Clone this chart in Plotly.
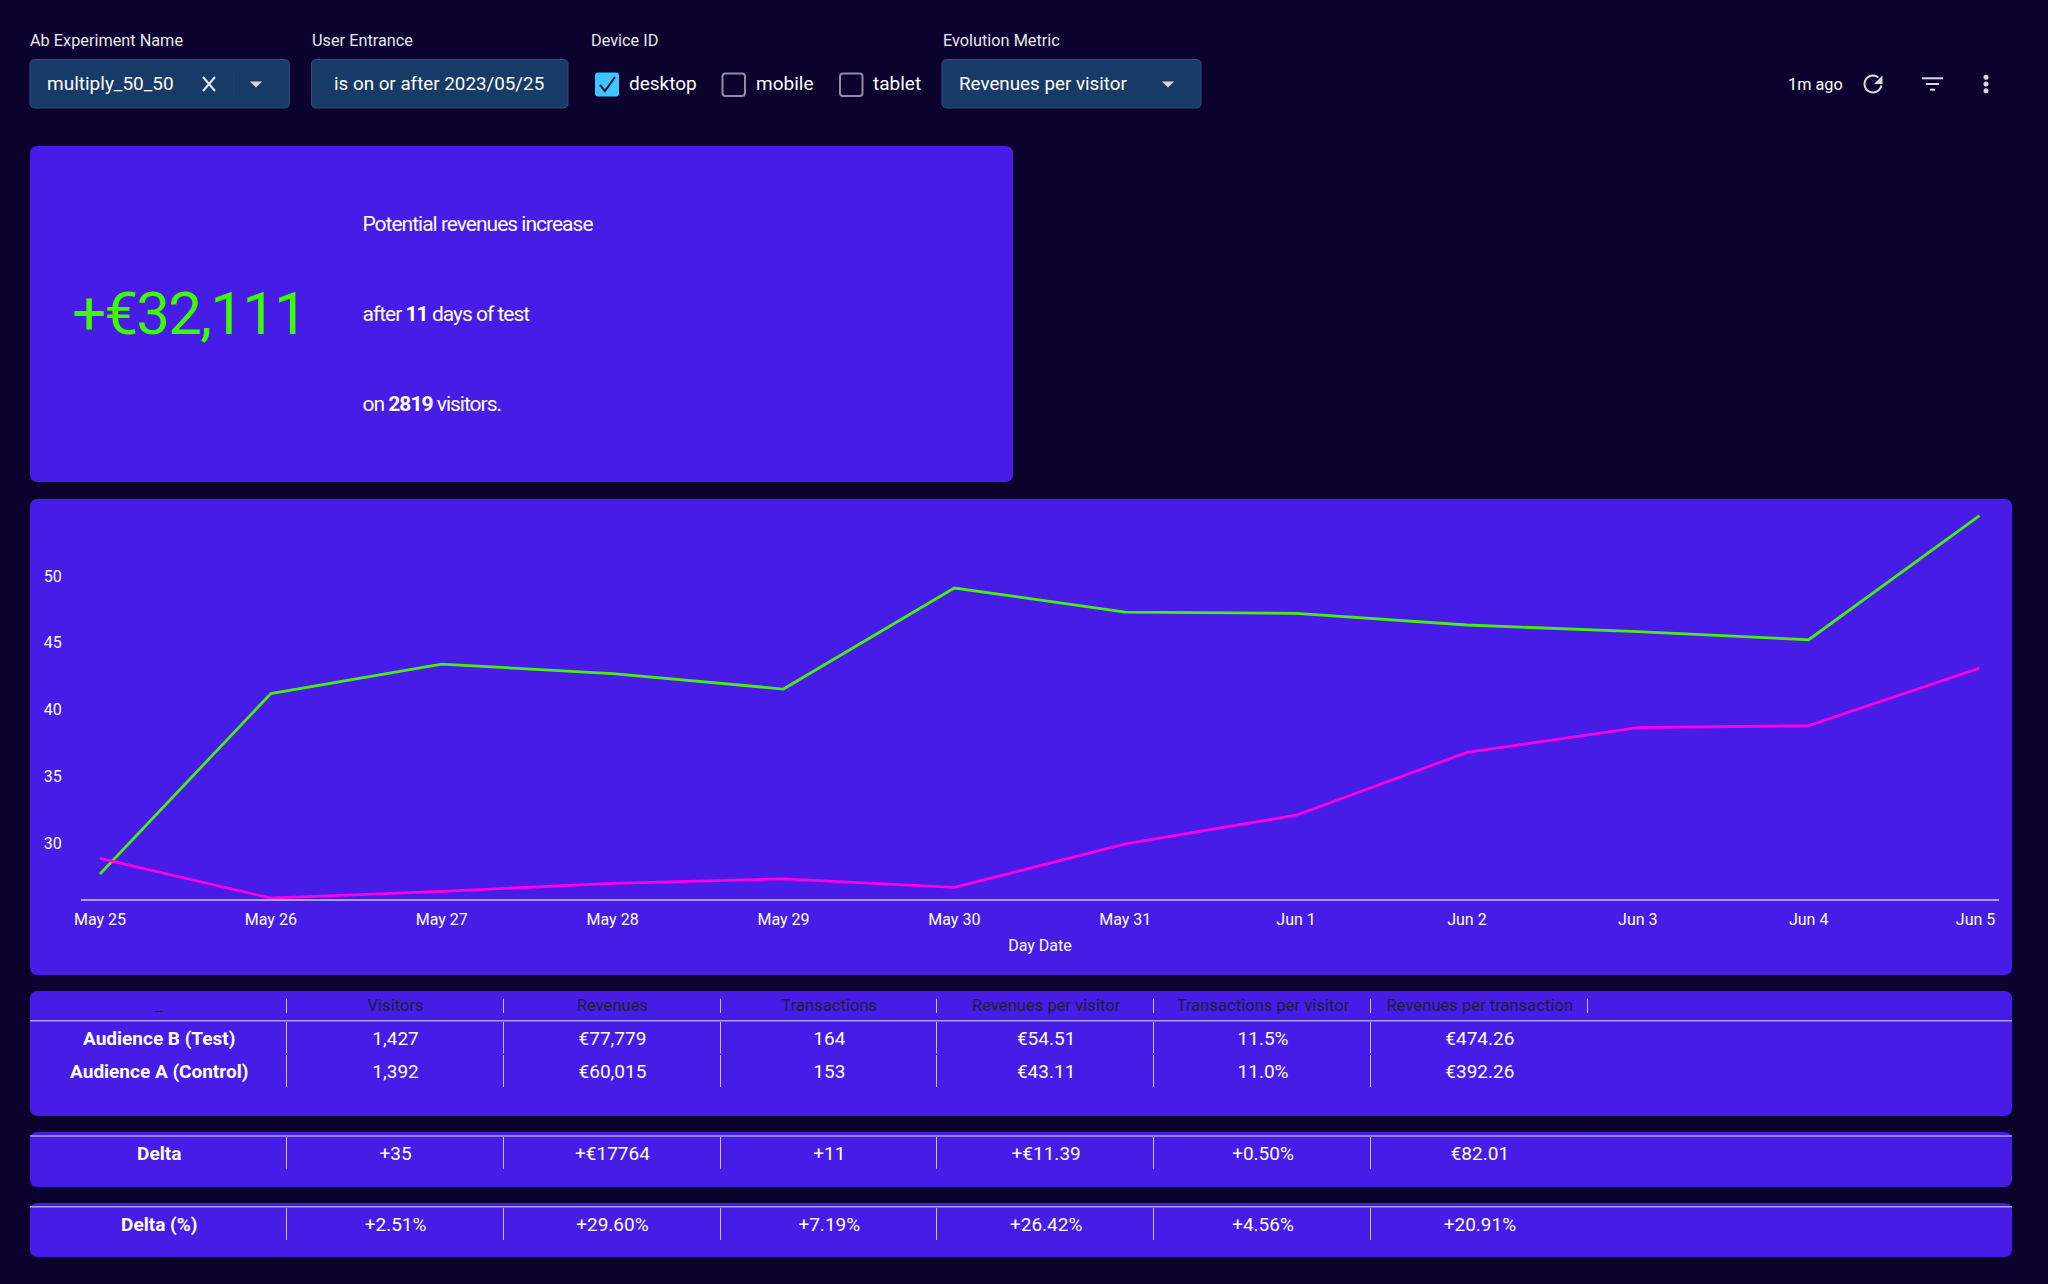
import math
import plotly.graph_objects as go

# chart values
days = ['2023-05-25', '2023-05-26', '2023-05-27', '2023-05-28', '2023-05-29', '2023-05-30',
        '2023-05-31', '2023-06-01', '2023-06-02', '2023-06-03', '2023-06-04', '2023-06-05']
day_labels = ['May 25', 'May 26', 'May 27', 'May 28', 'May 29', 'May 30',
              'May 31', 'Jun 1', 'Jun 2', 'Jun 3', 'Jun 4', 'Jun 5\u00a0\u00a0']
test_rpv = [27.7, 41.2, 43.4, 42.7, 41.54, 49.1, 47.3, 47.2, 46.33, 45.83, 45.23, 54.51]
control_rpv = [28.87, 25.9, 26.4, 27.0, 27.34, 26.7, 29.95, 32.1, 36.8, 38.65, 38.8, 43.11]

# table values
columns = ['_', 'Visitors', 'Revenues', 'Transactions', 'Revenues per visitor',
           'Transactions per visitor', 'Revenues per transaction']
audience_b = ['Audience B (Test)', '1,427', '€77,779', '164', '€54.51', '11.5%', '€474.26']
audience_a = ['Audience A (Control)', '1,392', '€60,015', '153', '€43.11', '11.0%', '€392.26']
delta = ['Delta', '+35', '+€17764', '+11', '+€11.39', '+0.50%', '€82.01']
delta_pct = ['Delta (%)', '+2.51%', '+29.60%', '+7.19%', '+26.42%', '+4.56%', '+20.91%']

BG = '#0b032d'
CARD = '#461ce6'
SELECT = '#173a66'
LINE = '#a99ee0'
RULE = '#c9bff5'
W, H = 2048, 1284
FONT = 'Roboto'
col_edges = [286.5, 503.5, 720.5, 936.5, 1153.5, 1370.5, 1587.5]
col_widths = [256, 217, 217, 217, 217, 217, 217]


def px(x):
    return x / W


def py(y):
    return 1 - y / H


def rounded(x0, y0, x1, y1, r, fill, line=None, width=0):
    path = (f'M {px(x0 + r)},{py(y0)} L {px(x1 - r)},{py(y0)} Q {px(x1)},{py(y0)} {px(x1)},{py(y0 + r)} '
            f'L {px(x1)},{py(y1 - r)} Q {px(x1)},{py(y1)} {px(x1 - r)},{py(y1)} '
            f'L {px(x0 + r)},{py(y1)} Q {px(x0)},{py(y1)} {px(x0)},{py(y1 - r)} '
            f'L {px(x0)},{py(y0 + r)} Q {px(x0)},{py(y0)} {px(x0 + r)},{py(y0)} Z')
    return dict(type='path', xref='paper', yref='paper', path=path, fillcolor=fill,
                line=dict(color=line or fill, width=width), layer='below')


def stroke(points, color, width=1, fill=None):
    path = 'M ' + ' L '.join(f'{px(x)},{py(y)}' for x, y in points)
    if fill:
        path += ' Z'
    return dict(type='path', xref='paper', yref='paper', path=path, fillcolor=fill,
                line=dict(color=color, width=width), layer='above')


def label(x, y, text, size=16.3, color='#e8e6f2', anchor='left'):
    return dict(xref='paper', yref='paper', x=px(x), y=py(y), text=text, showarrow=False,
                xanchor=anchor, yanchor='middle', borderpad=0,
                font=dict(family=FONT, size=size, color=color))


shapes = [
    rounded(30, 146, 1013, 482, 8, CARD),
    rounded(30, 499, 2012, 975, 8, CARD),
    rounded(30, 991, 2012, 1116, 8, CARD),
    rounded(30, 1132, 2012, 1187, 8, CARD),
    rounded(30, 1203, 2012, 1257, 8, CARD),
    # filter controls
    rounded(30, 59.5, 289.5, 108, 5, SELECT, '#3d4a7c', 1),
    rounded(311.5, 59.5, 568, 108, 5, SELECT, '#3d4a7c', 1),
    rounded(942, 59.5, 1201, 108, 5, SELECT, '#3d4a7c', 1),
    rounded(595, 72.5, 619, 96.5, 3, '#3fc6ff'),
    rounded(722.5, 73.5, 745, 96, 3, 'rgba(0,0,0,0)', '#8f8ca8', 2),
    rounded(840, 73.5, 862.5, 96, 3, 'rgba(0,0,0,0)', '#8f8ca8', 2),
    stroke([(600, 85), (605, 91), (615, 77)], '#10123a', 2),
    stroke([(203, 77), (215, 91)], '#e8e6f2', 2),
    stroke([(215, 77), (203, 91)], '#e8e6f2', 2),
    stroke([(234, 72), (234, 96)], '#24446f', 1),
    stroke([(250, 81.5), (262, 81.5), (256, 87.5)], '#d4d6e4', 0, '#d4d6e4'),
    stroke([(1162, 81.5), (1174, 81.5), (1168, 87.5)], '#d4d6e4', 0, '#d4d6e4'),
    # toolbar icons
    stroke([(1922, 78.3), (1943, 78.3)], '#dcdae8', 2),
    stroke([(1926, 84), (1939, 84)], '#dcdae8', 2),
    stroke([(1930, 89.7), (1935, 89.7)], '#dcdae8', 2),
    stroke([(1882.5, 75.5), (1882.5, 84), (1874, 84)], '#dcdae8', 0, '#dcdae8'),
]
arc = [(1873 + 8.5 * math.cos(math.radians(a)), 84 + 8.5 * math.sin(math.radians(a)))
       for a in range(10, 315, 15)]
shapes.append(stroke(arc, '#dcdae8', 2))
for dot_y in [77.3, 84, 90.7]:
    shapes.append(rounded(1983.5, dot_y - 2.5, 1988.5, dot_y + 2.5, 2.5, '#dcdae8'))
    shapes[-1]['layer'] = 'above'

# table rules
for rule_y in [1020.7, 1136, 1206.7]:
    shapes.append(stroke([(30, rule_y), (2012, rule_y)], LINE, 1.5))
for x in col_edges:
    shapes.append(stroke([(x, 998.7), (x, 1013)], RULE, 1))
    shapes.append(stroke([(x, 1132), (x, 1135)], '#3a2fa0', 1))
    shapes.append(stroke([(x, 1203), (x, 1206)], '#3a2fa0', 1))
for x in col_edges[:-1]:
    shapes.append(stroke([(x, 1022), (x, 1053.5)], RULE, 1))
    shapes.append(stroke([(x, 1055), (x, 1087)], RULE, 1))
    shapes.append(stroke([(x, 1137), (x, 1168.7)], RULE, 1))
    shapes.append(stroke([(x, 1208), (x, 1240)], RULE, 1))

annotations = [
    label(29, 40.7, 'Ab Experiment Name'),
    label(310.5, 40.7, 'User Entrance'),
    label(590, 40.7, 'Device ID'),
    label(941.5, 40.7, 'Evolution Metric'),
    label(46, 83.5, 'multiply_50_50', 19, 'white'),
    label(333, 83.5, 'is on or after 2023/05/25', 18.8, 'white'),
    label(627.5, 83.5, 'desktop', 19, 'white'),
    label(755, 83.5, 'mobile', 19, 'white'),
    label(872, 83.5, 'tablet', 19, 'white'),
    label(958, 83.5, 'Revenues per visitor', 18.8, 'white'),
    label(1787, 85, '1m ago', 16.3, 'white'),
    label(189, 314, '+€32,111', 60, '#3cfb00', 'center'),
    label(477.5, 224, 'Potential revenues increase', 21, 'white', 'center'),
    label(446, 314, 'after <b>11</b> days of test', 21, 'white', 'center'),
    label(431.7, 404, 'on <b>2819</b> visitors.', 21, 'white', 'center'),
]


def table_trace(row, top, bottom, header=None, header_height=1):
    weights = [700] + [400] * (len(row) - 1)
    return go.Table(
        domain=dict(x=[px(31.3), px(1588.3)], y=[py(bottom), py(top)]),
        columnwidth=col_widths,
        header=dict(values=header if header else [''] * len(columns), height=header_height,
                    align='center', fill_color='rgba(0,0,0,0)', line_color='rgba(0,0,0,0)',
                    font=dict(family=FONT, size=16.6 if header else 1, color='#1f1c38')),
        cells=dict(values=[[v] for v in row], height=33.3, align='center',
                   fill_color='rgba(0,0,0,0)', line_color='rgba(0,0,0,0)',
                   font=dict(family=FONT, size=19, color='white', weight=weights)),
    )


fig = go.Figure()
fig.add_trace(go.Scatter(x=days, y=test_rpv, mode='lines', name='Audience B (Test)',
                         line=dict(color='#46ee14', width=2.8)))
fig.add_trace(go.Scatter(x=days, y=control_rpv, mode='lines', name='Audience A (Control)',
                         line=dict(color='#ff00e6', width=2.8)))
fig.add_trace(table_trace(audience_b, 991, 1180, columns, 31.5))
fig.add_trace(table_trace(audience_a, 1054.4, 1200))
fig.add_trace(table_trace(delta, 1136.7, 1260))
fig.add_trace(table_trace(delta_pct, 1208, 1284))

fig.update_layout(
    width=W, height=H,
    margin=dict(l=0, r=0, t=0, b=0),
    paper_bgcolor=BG, plot_bgcolor='rgba(0,0,0,0)',
    showlegend=False,
    font=dict(family=FONT, size=16, color='white'),
    shapes=shapes,
    annotations=annotations,
    xaxis=dict(domain=[px(81), px(1999)], range=['2023-05-24 21:20', '2023-06-05 02:44'],
               automargin=False, type='date', tickvals=days, ticktext=day_labels,
               showgrid=False, zeroline=False, showline=True, linecolor=LINE, linewidth=2,
               ticks='outside', ticklen=5, tickcolor='rgba(0,0,0,0)',
               tickfont=dict(family=FONT, size=16, color='white'),
               title=dict(text='Day Date', standoff=12, font=dict(family=FONT, size=16, color='white'))),
    yaxis=dict(domain=[py(899), py(507)], range=[25.83, 55.16], tickvals=[30, 35, 40, 45, 50],
               automargin=False, showgrid=False, zeroline=False, showline=False,
               ticks='outside', ticklen=15, tickcolor='rgba(0,0,0,0)',
               tickfont=dict(family=FONT, size=16, color='white')),
)

# page margin off, table scrollbars off, big card text set tighter than the font's default
page_fixes = """
document.body.style.margin='0';document.body.style.background='#0b032d';
document.documentElement.style.overflow='hidden';
var css=document.createElement('style');
css.textContent='.scrollbar-kit,.scrollbar-capture,.scrollbar-glyph{display:none !important}';
document.head.appendChild(css);
document.querySelectorAll('.annotation-text').forEach(function(t){
  var s=t.textContent;
  if(s.indexOf('+€')===0){t.style.letterSpacing='-1.8px';}
  else if(s.indexOf('Potential')===0||s.indexOf('after')===0||s.indexOf('on ')===0){t.style.letterSpacing='-1px';}
});
"""
fig.write_html('out.html', config=dict(displayModeBar=False), post_script=page_fixes)
